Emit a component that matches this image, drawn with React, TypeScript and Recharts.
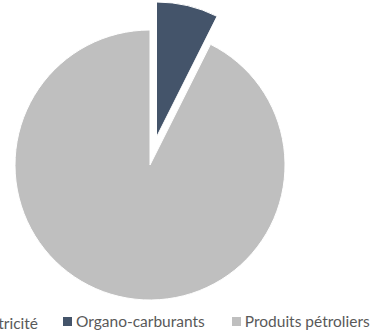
import React from "react";
import { PieChart, Pie, Cell, Legend } from "recharts";

// energy mix, share in %
const categories = ["Électricité", "Organo-carburants", "Produits pétroliers"];
const shares = [0, 7.4, 92.6];
const colors = ["#7f7f7f", "#44546a", "#bfbfbf"];
const explodedIndex = 1;

const data = categories.map((name, i) => ({ name, value: shares[i] }));

if (typeof document !== "undefined") document.body.style.margin = "0";

const FONT = "Lato, 'Noto Sans', sans-serif";

function Marker({ color }: { color: string }) {
  return <span style={{ display: "inline-block", width: 9, height: 9, background: color, marginRight: 4 }} />;
}

function renderLegend() {
  const item = (i: number) => (
    <span key={categories[i]} style={{ display: "inline-flex", alignItems: "center", whiteSpace: "nowrap" }}>
      <Marker color={colors[i]} />
      {categories[i]}
    </span>
  );
  return (
    <div style={{ position: "relative", height: 20, fontFamily: FONT, fontSize: 15.5, lineHeight: "20px", color: "#595959" }}>
      <div style={{ position: "absolute", right: 372 - 38, top: 0 }}>{item(0)}</div>
      <div style={{ position: "absolute", left: 63, top: 0, display: "flex", gap: 27 }}>
        {item(1)}
        {item(2)}
      </div>
    </div>
  );
}

export default function App() {
  const cx = 150;
  const cy = 165;
  const r = 135;
  // exploded slice is shifted along its bisector
  const dx = 6.5;
  const dy = -28;
  return (
    <div style={{ width: 372, height: 331, background: "#fff", overflow: "hidden" }}>
      <PieChart width={372} height={331} margin={{ top: 0, right: 0, bottom: 0, left: 0 }}>
        <Pie
          data={data}
          dataKey="value"
          nameKey="name"
          cx={cx}
          cy={cy}
          outerRadius={r}
          startAngle={90}
          endAngle={-270}
          stroke="#ffffff"
          strokeWidth={1}
          legendType="square"
          isAnimationActive={false}
        >
          {data.map((d, i) => (
            <Cell key={d.name} fill={i === explodedIndex ? "transparent" : colors[i]} stroke={i === explodedIndex ? "none" : "#ffffff"} />
          ))}
        </Pie>
        <Pie
          data={data}
          dataKey="value"
          nameKey="name"
          cx={cx + dx}
          cy={cy + dy}
          outerRadius={r}
          startAngle={90}
          endAngle={-270}
          legendType="none"
          isAnimationActive={false}
        >
          {data.map((d, i) => (
            <Cell key={d.name} fill={i === explodedIndex ? colors[i] : "transparent"} stroke={i === explodedIndex ? "#ffffff" : "none"} />
          ))}
        </Pie>
        <Legend
          content={renderLegend}
          wrapperStyle={{ position: "absolute", left: 0, top: 311, width: 372, height: 20 }}
        />
      </PieChart>
    </div>
  );
}
